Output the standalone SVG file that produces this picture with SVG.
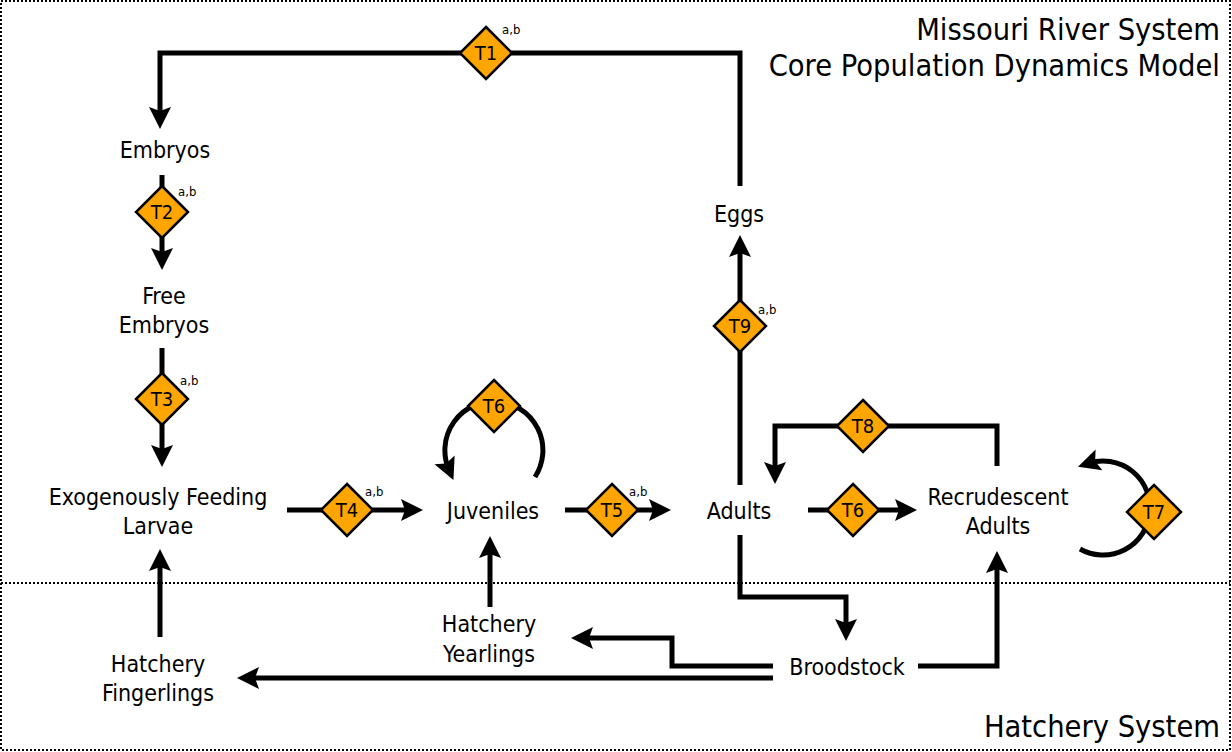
<svg xmlns="http://www.w3.org/2000/svg" width="1232" height="752" viewBox="0 0 1232 752">
<defs>
<marker id="ah" markerUnits="userSpaceOnUse" orient="auto" markerWidth="30" markerHeight="30" refX="0" refY="0" viewBox="-15 -15 30 30" overflow="visible">
<path d="M11,0 L-11,-11 L-7,0 L-11,11 Z" fill="#000"/>
</marker>
<style>
.frame{fill:none;stroke:#000;stroke-width:2;stroke-dasharray:2 2}
.c{fill:none;stroke:#000;stroke-width:5}
.ca{fill:none;stroke:#000;stroke-width:5;marker-end:url(#ah)}
.d{fill:#FFA500;stroke:#000;stroke-width:2.5}
.t{font-family:"DejaVu Sans Condensed","DejaVu Sans",sans-serif;font-size:23px;fill:#000;text-anchor:middle}
.tl{font-family:"DejaVu Sans Condensed","DejaVu Sans",sans-serif;font-size:20px;fill:#000;text-anchor:middle}
.s{font-family:"DejaVu Sans Condensed","DejaVu Sans",sans-serif;font-size:13px;fill:#000}
.h{font-family:"DejaVu Sans Condensed","DejaVu Sans",sans-serif;font-size:30.5px;fill:#000;text-anchor:end}
</style>
</defs>
<rect class="frame" x="1" y="1" width="1229" height="749"/>
<line class="frame" x1="1" y1="583" x2="1230" y2="583"/>
<g id="titles">
<text class="h" x="1220" y="40">Missouri River System</text>
<text class="h" x="1220" y="76">Core Population Dynamics Model</text>
<text class="h" x="1220" y="737">Hatchery System</text>
</g>
<g id="connectors">
<path class="ca" d="M740,186 V53 H160 V118"/>
<path class="ca" d="M162,175 V259"/>
<path class="ca" d="M162,348 V456"/>
<path class="ca" d="M287,510 H412"/>
<path class="ca" d="M535,477 A49,49 0 1 0 449,470"/>
<path class="ca" d="M565,510 H660"/>
<path class="ca" d="M740,485 V246"/>
<path class="ca" d="M808,510 H906"/>
<path class="ca" d="M997,466 V426 H775 V473"/>
<path class="ca" d="M1080,549 A47,47 0 1 0 1088.5,463.3"/>
<path class="ca" d="M740,535 V597 H846 V630"/>
<path class="ca" d="M918,666 H997 V562"/>
<path class="ca" d="M773,666 H672 V638 H582"/>
<path class="ca" d="M773,678 H248"/>
<path class="ca" d="M490,607 V547"/>
<path class="ca" d="M160,637 V560"/>
</g>
<g id="T1"><path class="d" d="M486,27 L512,53 L486,79 L460,53 Z"/><text class="tl" x="486" y="60">T1</text><text class="s" x="502" y="34">a,b</text></g>
<g id="T2"><path class="d" d="M162,186 L188,212 L162,238 L136,212 Z"/><text class="tl" x="162" y="219">T2</text><text class="s" x="178" y="196">a,b</text></g>
<g id="T3"><path class="d" d="M162,373 L188,399 L162,425 L136,399 Z"/><text class="tl" x="162" y="406">T3</text><text class="s" x="180" y="385">a,b</text></g>
<g id="T4"><path class="d" d="M347,484 L373,510 L347,536 L321,510 Z"/><text class="tl" x="347" y="517">T4</text><text class="s" x="365" y="496">a,b</text></g>
<g id="T6a"><path class="d" d="M494,380 L520,406 L494,432 L468,406 Z"/><text class="tl" x="494" y="413">T6</text></g>
<g id="T5"><path class="d" d="M612,484 L638,510 L612,536 L586,510 Z"/><text class="tl" x="612" y="517">T5</text><text class="s" x="629" y="496">a,b</text></g>
<g id="T9"><path class="d" d="M740,300 L766,326 L740,352 L714,326 Z"/><text class="tl" x="740" y="333">T9</text><text class="s" x="758" y="314">a,b</text></g>
<g id="T6b"><path class="d" d="M853,484 L879,510 L853,536 L827,510 Z"/><text class="tl" x="853" y="517">T6</text></g>
<g id="T8"><path class="d" d="M863,400 L889,426 L863,452 L837,426 Z"/><text class="tl" x="863" y="433">T8</text></g>
<g id="T7"><path class="d" d="M1154,485 L1181,512 L1154,539 L1127,512 Z"/><text class="tl" x="1154" y="519">T7</text></g>
<g id="embryos"><text class="t" x="165" y="158">Embryos</text></g>
<g id="free-embryos"><text class="t" x="164" y="304">Free</text><text class="t" x="164" y="333">Embryos</text></g>
<g id="larvae"><text class="t" x="158" y="505">Exogenously Feeding</text><text class="t" x="158" y="534">Larvae</text></g>
<g id="juveniles"><text class="t" x="493" y="519">Juveniles</text></g>
<g id="adults"><text class="t" x="739" y="519">Adults</text></g>
<g id="eggs"><text class="t" x="739" y="222">Eggs</text></g>
<g id="recrudescent"><text class="t" x="998" y="505">Recrudescent</text><text class="t" x="998" y="534">Adults</text></g>
<g id="broodstock"><text class="t" x="847" y="675">Broodstock</text></g>
<g id="yearlings"><text class="t" x="489" y="632">Hatchery</text><text class="t" x="489" y="662">Yearlings</text></g>
<g id="fingerlings"><text class="t" x="158" y="672">Hatchery</text><text class="t" x="158" y="701">Fingerlings</text></g>
</svg>
